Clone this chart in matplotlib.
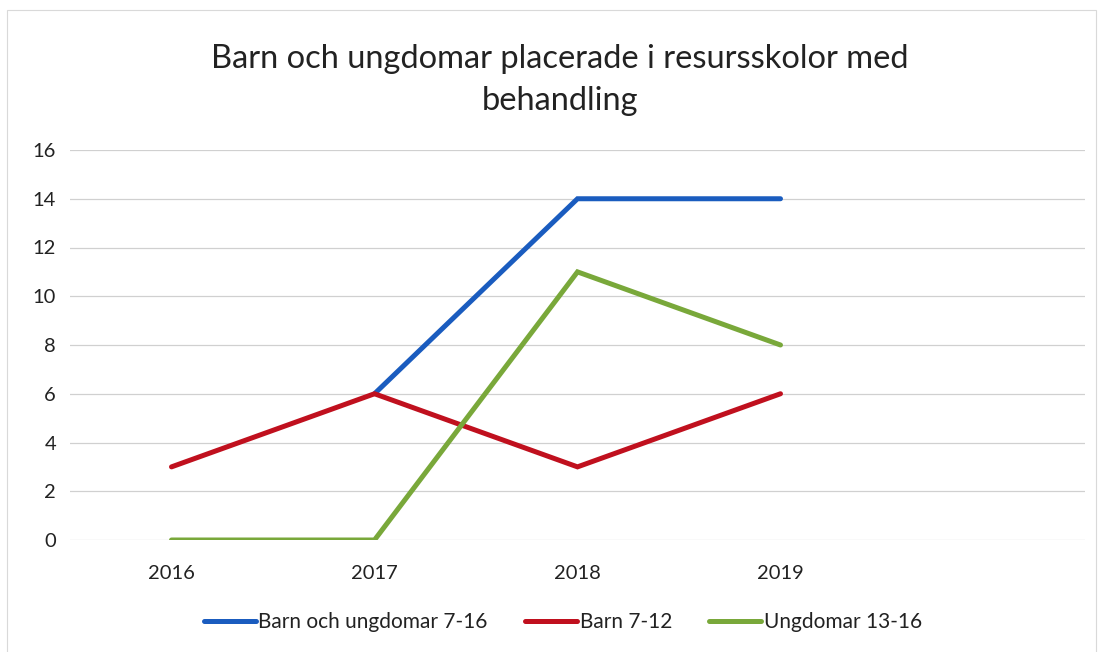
import matplotlib
matplotlib.use("Agg")
import matplotlib.pyplot as plt
import numpy as np
from matplotlib.patches import Rectangle

categories = ["2016", "2017", "2018", "2019", ""]
barn_ungdomar_7_16 = [np.nan, 6, 14, 14, np.nan]
barn_7_12 = [3, 6, 3, 6, np.nan]
ungdomar_13_16 = [0, 0, 11, 8, np.nan]
series_names = ["Barn och ungdomar 7-16", "Barn 7-12", "Ungdomar 13-16"]
colors = ["#1a5cbf", "#c0101e", "#79a83a"]
yticks = [0, 2, 4, 6, 8, 10, 12, 14, 16]

plt.rcParams['font.family'] = ['Lato', 'DejaVu Sans']

fig = plt.figure(figsize=(10.99, 6.52), dpi=100)
fig.patches.append(Rectangle((7/1099, -0.01), (1099-10)/1099, 1 - 10/652 + 0.01,
                             transform=fig.transFigure, fill=False,
                             edgecolor="#d9d9d9", linewidth=0.8))
ax = fig.add_axes([70/1099, (652-540)/652, 1015/1099, 390/652])

x = np.arange(len(categories))
for vals, name, c in zip([barn_ungdomar_7_16, barn_7_12, ungdomar_13_16], series_names, colors):
    ax.plot(x, vals, color=c, linewidth=3.6, label=name, solid_capstyle="round",
            solid_joinstyle="miter")

ax.set_xlim(-0.5, len(categories) - 0.5)
ax.set_ylim(0, 16)
ax.set_yticks(yticks)
ax.set_yticklabels([str(v) for v in yticks], fontsize=14.5, color="#222222")
ax.set_xticks(x)
ax.set_xticklabels(categories, fontsize=14.5, color="#222222")
ax.tick_params(length=0, pad=10)
ax.tick_params(axis='x', pad=18)
ax.grid(axis='y', color="#d0d0d0", linewidth=0.9)
ax.set_axisbelow(True)
for s in ax.spines.values():
    s.set_visible(False)

fig.text(560/1099, 1 - 80/652, "Barn och ungdomar placerade i resursskolor med\nbehandling",
         ha="center", va="center", fontsize=23.5, color="#222222", linespacing=1.5)

leg = fig.legend(loc="center", bbox_to_anchor=(563/1099, 1 - 622/652), ncol=3,
                 frameon=False, fontsize=15, handlelength=2.5, handletextpad=0.1,
                 columnspacing=1.8)
for t in leg.get_texts():
    t.set_color("#222222")

fig.savefig("out.png", dpi=100)
